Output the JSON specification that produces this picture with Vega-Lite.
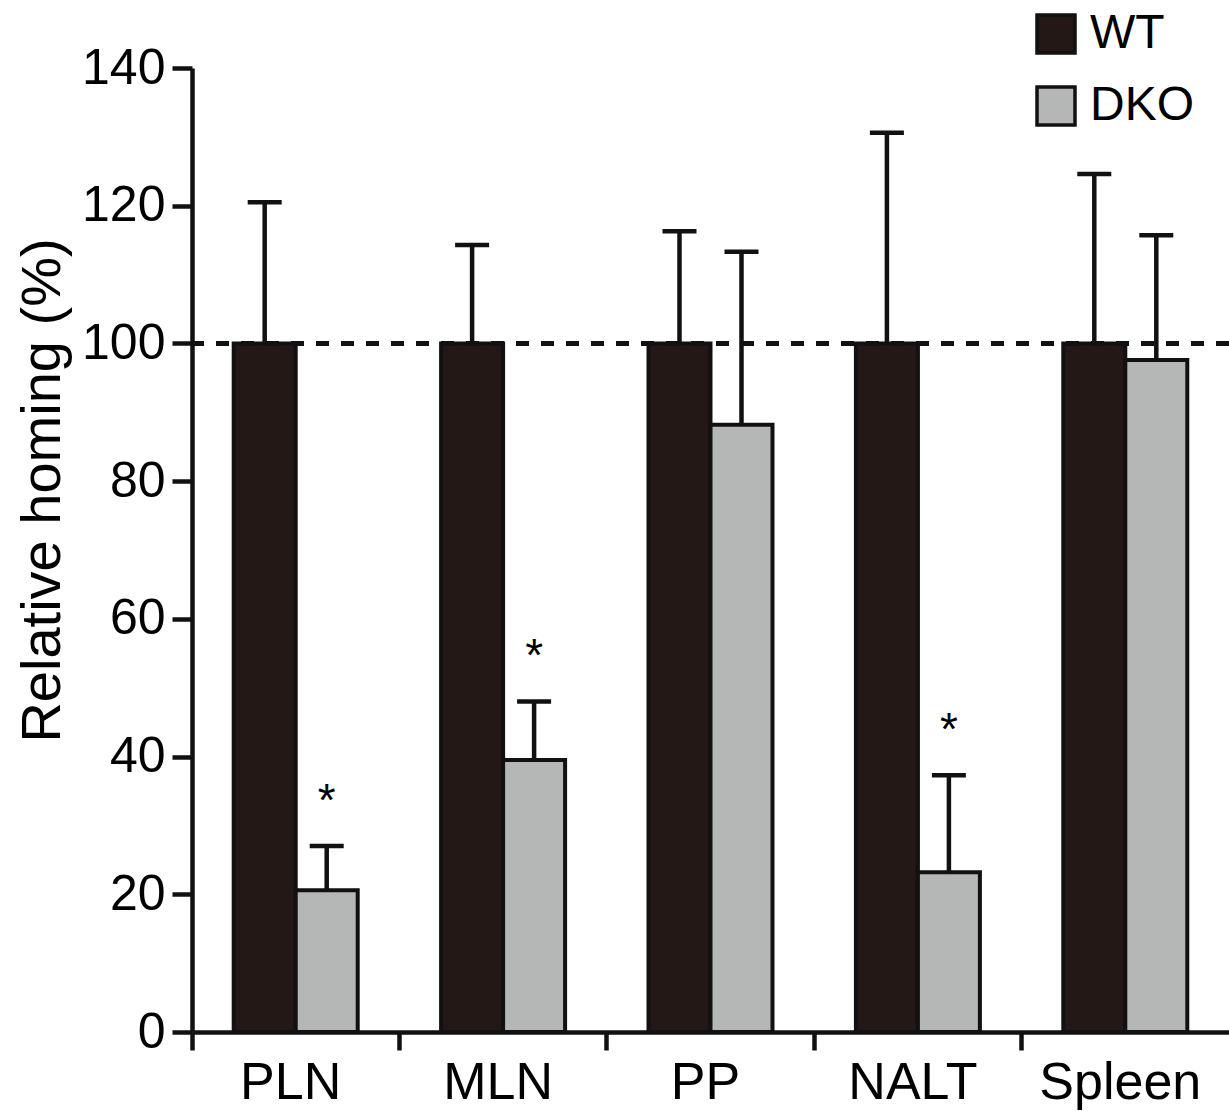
{
  "$schema": "https://vega.github.io/schema/vega-lite/v6.json",
  "autosize": {"type": "none"},
  "width": 1037,
  "height": 964,
  "padding": {"left": 192, "top": 68, "right": 0, "bottom": 79},
  "background": "white",
  "data": {
    "values": [
      {"tissue": "PLN", "group": "WT", "value": 100, "upper": 120.5, "sig": ""},
      {"tissue": "PLN", "group": "DKO", "value": 20.6, "upper": 27.0, "sig": "*"},
      {"tissue": "MLN", "group": "WT", "value": 100, "upper": 114.3, "sig": ""},
      {"tissue": "MLN", "group": "DKO", "value": 39.5, "upper": 48.0, "sig": "*"},
      {"tissue": "PP", "group": "WT", "value": 100, "upper": 116.3, "sig": ""},
      {"tissue": "PP", "group": "DKO", "value": 88.2, "upper": 113.3, "sig": ""},
      {"tissue": "NALT", "group": "WT", "value": 100, "upper": 130.6, "sig": ""},
      {"tissue": "NALT", "group": "DKO", "value": 23.2, "upper": 37.3, "sig": "*"},
      {"tissue": "Spleen", "group": "WT", "value": 100, "upper": 124.6, "sig": ""},
      {"tissue": "Spleen", "group": "DKO", "value": 97.6, "upper": 115.7, "sig": ""}
    ]
  },
  "layer": [
    {
      "mark": {"type": "bar", "stroke": "#111111", "strokeWidth": 4},
      "encoding": {
        "x": {
          "field": "tissue", "type": "nominal",
          "sort": ["PLN", "MLN", "PP", "NALT", "Spleen"],
          "scale": {"paddingInner": 0, "paddingOuter": 0},
          "axis": {
            "title": null, "labelAngle": 0, "labelFontSize": 52,
            "bandPosition": 0, "labelOffset": -5, "tickSize": 18, "labelPadding": 7
          }
        },
        "xOffset": {
          "field": "group", "type": "nominal", "sort": ["WT", "DKO"],
          "scale": {"paddingInner": 0, "paddingOuter": 0.6726}
        },
        "y": {
          "field": "value", "type": "quantitative",
          "scale": {"domain": [0, 140], "nice": false},
          "axis": {
            "title": "Relative homing (%)", "values": [0, 20, 40, 60, 80, 100, 120, 140],
            "labelFontSize": 50, "tickSize": 20, "labelPadding": 7,
            "titleFontSize": 56, "titleFontWeight": "normal",
            "titleX": -150, "titleY": 422, "titleAngle": 270, "titleBaseline": "middle", "titleAlign": "center"
          }
        },
        "fill": {
          "field": "group", "type": "nominal",
          "scale": {"domain": ["WT", "DKO"], "range": ["#231815", "#b5b6b6"]},
          "legend": {
            "title": null, "orient": "none", "legendX": 840, "legendY": -58,
            "symbolType": "square", "symbolSize": 1444, "symbolStrokeColor": "#111111",
            "symbolStrokeWidth": 3.5, "labelFontSize": 48, "labelFont": "Liberation Sans",
            "labelColor": "black", "labelOffset": 10, "rowPadding": 20, "symbolOpacity": 1
          }
        }
      }
    },
    {
      "mark": {"type": "rule", "strokeDash": [13, 12], "strokeWidth": 4.5, "color": "#111111"},
      "encoding": {"y": {"datum": 100}}
    },
    {
      "mark": {"type": "rule", "strokeWidth": 4.5, "color": "#111111"},
      "encoding": {
        "x": {"field": "tissue", "type": "nominal", "sort": ["PLN", "MLN", "PP", "NALT", "Spleen"]},
        "xOffset": {"field": "group", "type": "nominal", "sort": ["WT", "DKO"]},
        "y": {"field": "value", "type": "quantitative"},
        "y2": {"field": "upper"}
      }
    },
    {
      "mark": {"type": "tick", "size": 34, "thickness": 4.5, "color": "#111111", "opacity": 1},
      "encoding": {
        "x": {"field": "tissue", "type": "nominal", "sort": ["PLN", "MLN", "PP", "NALT", "Spleen"]},
        "xOffset": {"field": "group", "type": "nominal", "sort": ["WT", "DKO"]},
        "y": {"field": "upper", "type": "quantitative"}
      }
    },
    {
      "mark": {"type": "text", "fontSize": 46, "font": "Liberation Sans", "color": "black", "baseline": "alphabetic", "dy": -30},
      "encoding": {
        "x": {"field": "tissue", "type": "nominal", "sort": ["PLN", "MLN", "PP", "NALT", "Spleen"]},
        "xOffset": {"field": "group", "type": "nominal", "sort": ["WT", "DKO"]},
        "y": {"field": "upper", "type": "quantitative"},
        "text": {"field": "sig"}
      }
    }
  ],
  "config": {
    "view": {"stroke": null},
    "font": "Liberation Sans",
    "axis": {
      "grid": false, "domainColor": "#111111", "domainWidth": 4.5,
      "tickColor": "#111111", "tickWidth": 4.5,
      "labelColor": "black", "titleColor": "black",
      "labelFont": "Liberation Sans", "titleFont": "Liberation Sans"
    }
  }
}
